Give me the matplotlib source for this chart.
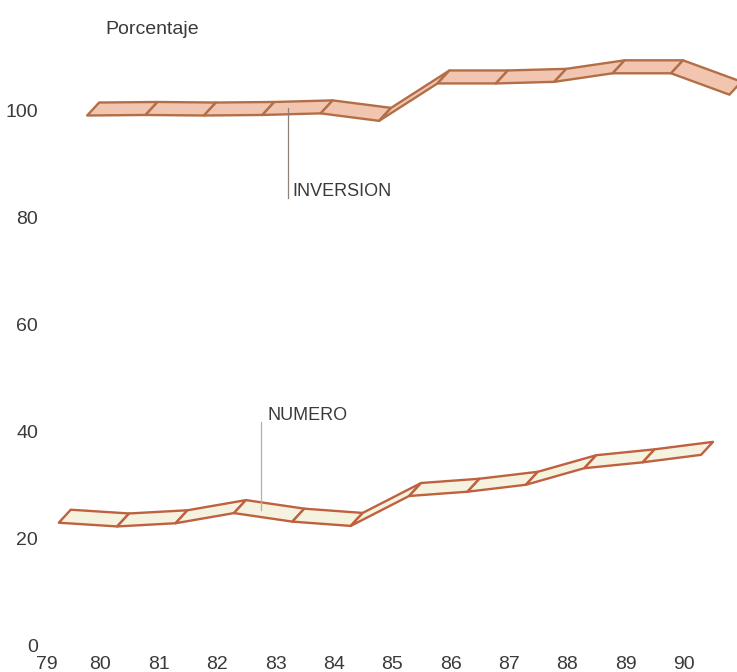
"""
Ribbon chart: investment and number index, 1979-1990.
"""
import numpy as np
import matplotlib
matplotlib.use('Agg')
import matplotlib.pyplot as plt
import matplotlib.transforms as mtransforms
from matplotlib.patches import Polygon

# Index values (percent), one per year
years = [79, 80, 81, 82, 83, 84, 85, 86, 87, 88, 89, 90]
inversion = [100.3, 100.4, 100.3, 100.4, 100.7, 99.3, 106.3, 106.3, 106.6, 108.2, 108.2, 104.2]
numero = [24.1, 23.4, 24.0, 25.9, 24.3, 23.5, 29.1, 29.9, 31.2, 34.3, 35.4, 36.8]
y_ticks = [0, 20, 40, 60, 80, 100]

# Ribbon look
RIBBON_DX = 0.205  # horizontal depth of the ribbon (years)
RIBBON_DY = 2.43   # vertical depth of the ribbon (percent)
TEXT_COLOR = '#3a3a3a'

plt.rcParams['font.family'] = ['Liberation Sans', 'DejaVu Sans']


def draw_ribbon(ax, xs, values, face, edge):
    """Draw a series as a slanted ribbon made of one panel per year step."""
    xs = np.asarray(xs, dtype=float)
    vals = np.asarray(values, dtype=float)
    bottom = np.column_stack([xs - RIBBON_DX / 2, vals - RIBBON_DY / 2])
    top = np.column_stack([xs + RIBBON_DX / 2, vals + RIBBON_DY / 2])
    for i in range(len(xs) - 1):
        panel = Polygon([bottom[i], bottom[i + 1], top[i + 1], top[i]],
                        closed=True, facecolor=face, edgecolor=edge,
                        linewidth=1.7, joinstyle='round')
        ax.add_patch(panel)


def label_series(ax, xs, values, x, y_end, text, text_dx, line_color):
    """Vertical leader line from the ribbon to its label."""
    y_start = np.interp(x, xs, values)
    ax.plot([x, x], [y_start, y_end], color=line_color, linewidth=0.9, zorder=3)
    ax.text(x + text_dx, y_end + 1.2, text, fontsize=13, color=TEXT_COLOR,
            ha='left', va='center')


fig = plt.figure(figsize=(7.37, 6.72), dpi=100)
ax = fig.add_axes([42 / 737, 27 / 672, 695 / 737, 645 / 672])
ax.set_xlim(79.063, 90.903)
ax.set_ylim(0, 120.7)

inv_x = [y + 0.876 for y in years]
num_x = [y + 0.39 for y in years]

draw_ribbon(ax, inv_x, inversion, '#f2c5b0', '#b26f47')
draw_ribbon(ax, num_x, numero, '#f5f2e0', '#bf613f')

label_series(ax, inv_x, inversion, 83.22, 83.7, 'INVERSION', 0.06, '#8f8078')
label_series(ax, num_x, numero, 82.75, 41.7, 'NUMERO', 0.12, '#b8aea6')

# Axis styling: no spines, no tick marks, just labels
for side in ax.spines.values():
    side.set_visible(False)
ax.set_yticks(y_ticks)
ax.set_yticklabels([str(t) for t in y_ticks])
ax.set_xticks(years)
ax.set_xticklabels([str(y) for y in years])
ax.tick_params(axis='y', length=0, pad=2.9, labelsize=14, labelcolor=TEXT_COLOR)
ax.tick_params(axis='x', length=0, pad=8.0, labelsize=14, labelcolor=TEXT_COLOR)

# first year label sits a little to the right, clear of the "0"
first = ax.get_xticklabels()[0]
first.set_transform(first.get_transform() +
                    mtransforms.ScaledTranslation(5 / 100, 0, fig.dpi_scale_trans))

fig.text(105 / 737, 1 - 29 / 672, 'Porcentaje', fontsize=14,
         color=TEXT_COLOR, ha='left', va='center')

fig.savefig('out.png', dpi=100, facecolor='white')
plt.close(fig)
